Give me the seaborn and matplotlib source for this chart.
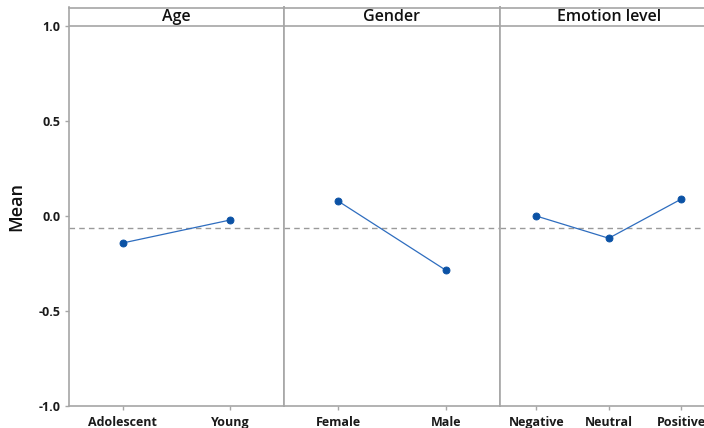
import matplotlib
matplotlib.use("Agg")
import matplotlib.pyplot as plt
import seaborn as sns
import pandas as pd

# ---- data ----
panel_titles = ["Age", "Gender", "Emotion level"]
age_levels = ["Adolescent", "Young"]
age_means = [-0.142, -0.021]
gender_levels = ["Female", "Male"]
gender_means = [0.079, -0.286]
emotion_levels = ["Negative", "Neutral", "Positive"]
emotion_means = [0.000, -0.117, 0.089]
grand_mean = -0.062
y_ticks = [-1.0, -0.5, 0.0, 0.5, 1.0]
y_label = "Mean"

sns.set_theme(style="white")
plt.rcParams['font.family'] = ['Open Sans', 'DejaVu Sans']

W, H = 704, 428
fig = plt.figure(figsize=(W / 100, H / 100), dpi=100)

frame_col = "#A6A6A6"
pt_col = "#0B52A5"
line_col = "#2E6DBF"

y_bottom_px = 406.0
y_one_px = 26.0
y_top_px = 7.5
px_per_unit = (y_bottom_px - y_one_px) / 2.0
ymax = 1.0 + (y_one_px - y_top_px) / px_per_unit

panels = [
    (age_levels, age_means, 69.0, 215.0),
    (gender_levels, gender_means, 284.0, 216.0),
    (emotion_levels, emotion_means, 500.0, 217.5),
]

for i, ((levels, means, x0, w), title) in enumerate(zip(panels, panel_titles)):
    ax = fig.add_axes([x0 / W, (H - y_bottom_px) / H, w / W, (y_bottom_px - y_top_px) / H])
    df = pd.DataFrame({"level": levels, "mean": means})
    sns.pointplot(data=df, x="level", y="mean", ax=ax, color=pt_col,
                  markers="o", markersize=5, linewidth=0.9, errorbar=None)
    for ln in ax.lines:
        ln.set_color(line_col)
        ln.set_markerfacecolor(pt_col)
        ln.set_markeredgecolor(pt_col)
    ax.set_xlim(-0.5, len(levels) - 0.5)
    ax.set_ylim(-1.0, ymax)
    ax.axhline(grand_mean, color="#9A9A9A", lw=1.0, ls=(0, (4, 3)), zorder=0)
    ax.axhline(1.0, color=frame_col, lw=1.2, zorder=1)
    ax.text(0.5, (1.0 + ymax) / 2, title, transform=ax.get_yaxis_transform(),
            ha="center", va="center", fontsize=11.5, fontweight="semibold",
            color="#111111")
    for s in ax.spines.values():
        s.set_color(frame_col)
        s.set_linewidth(1.2)
    ax.set_xlabel("")
    ax.set_ylabel("")
    ax.tick_params(axis="x", length=3, width=1, color=frame_col, pad=4,
                   labelsize=9, labelcolor="#1A1A1A", direction="out", bottom=True)
    for lab in ax.get_xticklabels():
        lab.set_fontweight("bold")
    if i == 0:
        ax.set_yticks(y_ticks)
        ax.set_yticklabels([f"{v:.1f}" for v in y_ticks], fontweight="bold")
        ax.tick_params(axis="y", length=3, width=1, color=frame_col, pad=3,
                       labelsize=9, labelcolor="#1A1A1A", direction="out", left=True)
        ax.set_ylabel(y_label, fontsize=13, fontweight="semibold", labelpad=10, color="#111111")
    else:
        ax.set_yticks([])

fig.savefig("out.png", dpi=100)
